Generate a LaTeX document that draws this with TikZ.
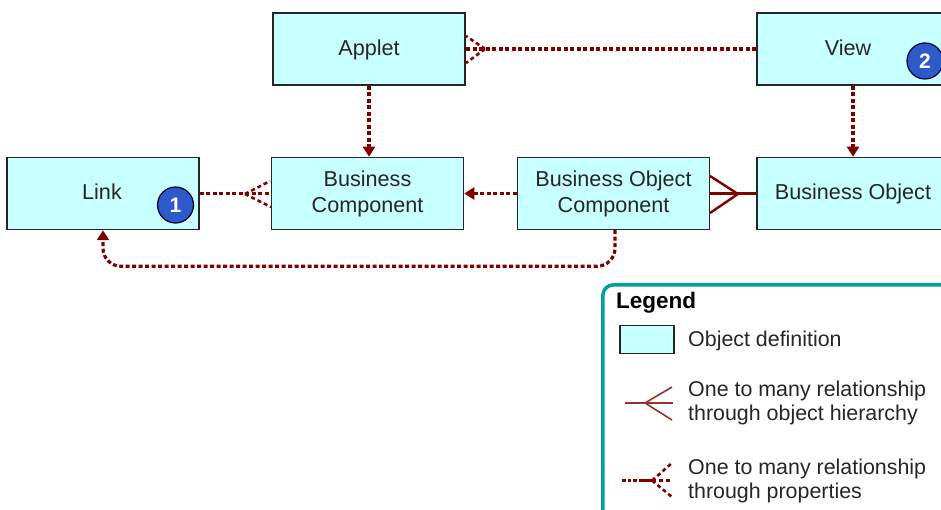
\documentclass[tikz,border=0pt]{standalone}
\usepackage{fontspec}
\usetikzlibrary{arrows.meta}
\setmainfont{Liberation Sans}
\definecolor{boxfill}{RGB}{200,255,255}
\definecolor{linkred}{RGB}{128,0,0}
\definecolor{footred}{RGB}{150,50,50}
\definecolor{legendteal}{RGB}{0,158,158}
\definecolor{badgeblue}{RGB}{45,90,200}
\begin{document}
\begin{tikzpicture}[>={Triangle[length=10pt,width=12pt]},x=1pt,y=-1pt,
	objbox/.style={draw=black!85,line width=1.5pt,fill=boxfill,text=black!85,minimum width=192pt,minimum height=72pt,inner sep=0pt,align=center,font=\fontsize{21.6}{26}\selectfont},
	badge/.style={circle,draw=black!80!blue,line width=1.2pt,fill=badgeblue,text=white,minimum size=36pt,inner sep=0pt,font=\fontsize{21}{21}\selectfont\bfseries},
	proplink/.style={draw=linkred,line width=3.2pt,dash pattern=on 4pt off 2.5pt},
	propfoot/.style={draw=linkred,line width=2.6pt,dash pattern=on 4pt off 3pt},
	hierlink/.style={draw=linkred,line width=3.2pt},
	hierfoot/.style={draw=linkred,line width=2.4pt},
	legendtext/.style={anchor=west,inner sep=0pt,align=left,text=black!85,font=\fontsize{21.4}{24.8}\selectfont}]
	\useasboundingbox (0,0) rectangle (941,510);
	\clip (0,0) rectangle (941,510);
	% objects
	\node[objbox] (applet) at (369,49) {\raisebox{-7pt}[0pt][0pt]{Applet}};
	\node[objbox] (view) at (853,49) {\hspace{-10pt}\raisebox{2pt}{View}};
	\node[objbox] (link) at (103,193.5) {\hspace{-2pt}\raisebox{4pt}{Link}};
	\node[objbox] (buscomp) at (367.5,193.5) {Business\\Component};
	\node[objbox] (busobjcomp) at (613.5,193.5) {Business Object\\Component};
	\node[objbox] (busobj) at (853,193.5) {\raisebox{3pt}{Business Object}};
	\node[badge] (one) at (175.5,205) {1};
	\node[badge] (two) at (925,61) {2};
	% arrows
	\draw[proplink,->] (applet.south) -- (buscomp.north -| applet.south);
	\draw[proplink,->] (view.south) -- (busobj.north);
	\draw[proplink,->] (busobjcomp.west) -- (buscomp.east);
	\draw[proplink,->,rounded corners=18pt] ([xshift=1.5pt]busobjcomp.south) -- ++(0,36) -| (link.south);
	% view to applet
	\coordinate (appletfork) at (485,49);
	\draw[proplink] (view.west) -- (applet.east);
	\draw[propfoot] (appletfork) -- (466,36);
	\draw[propfoot] (appletfork) -- (466,63);
	% link to component
	\coordinate (compfork) at (245,194);
	\draw[proplink] (link.east) -- (buscomp.west);
	\draw[propfoot] (compfork) -- (270,181);
	\draw[propfoot] (compfork) -- (271,207);
	% object hierarchy
	\coordinate (objfork) at (738,194);
	\draw[hierlink] (busobj.west) -- (busobjcomp.east);
	\draw[hierfoot] (objfork) -- (710,176);
	\draw[hierfoot] (objfork) -- (710,213);
	% legend
	\node[draw=legendteal,line width=3.5pt,rounded corners=11pt,minimum width=370pt,minimum height=250pt,anchor=north west] (legendbox) at (601,283) {};
	\node[anchor=west,inner sep=0pt,text=black,font=\fontsize{22.5}{26}\selectfont\bfseries] (legendtitle) at (616,303) {Legend};
	\node[objbox,minimum width=54pt,minimum height=28pt] (legendobj) at (647,339.5) {};
	\node[legendtext] (legendone) at (688,341) {Object definition};
	\node[legendtext] (legendtwo) at (688,403) {One to many relationship\\through object hierarchy};
	\node[legendtext] (legendthree) at (688,481) {One to many relationship\\through properties};
	% legend symbols
	\coordinate (hierstart) at (625,403);
	\coordinate (hierfork) at (645,403);
	\draw[draw=footred,line width=1.6pt] (hierstart) -- (673,403);
	\draw[draw=footred,line width=1.6pt] (hierfork) -- (672,387);
	\draw[draw=footred,line width=1.6pt] (hierfork) -- (672,420);
	\coordinate (propstart) at (622,480.5);
	\coordinate (propmid) at (640,480.5);
	\coordinate (propfork) at (652,480.5);
	\draw[draw=linkred,line width=3pt,dash pattern=on 3.5pt off 2pt] (propstart) -- (propmid);
	\draw[draw=linkred,line width=3.2pt] (propmid) -- (propfork);
	\draw[propfoot,line width=3pt] (propfork) -- (672,480.5);
	\draw[propfoot] (propfork) -- (672,463);
	\draw[propfoot] (propfork) -- (672,497);
\end{tikzpicture}
\end{document}
